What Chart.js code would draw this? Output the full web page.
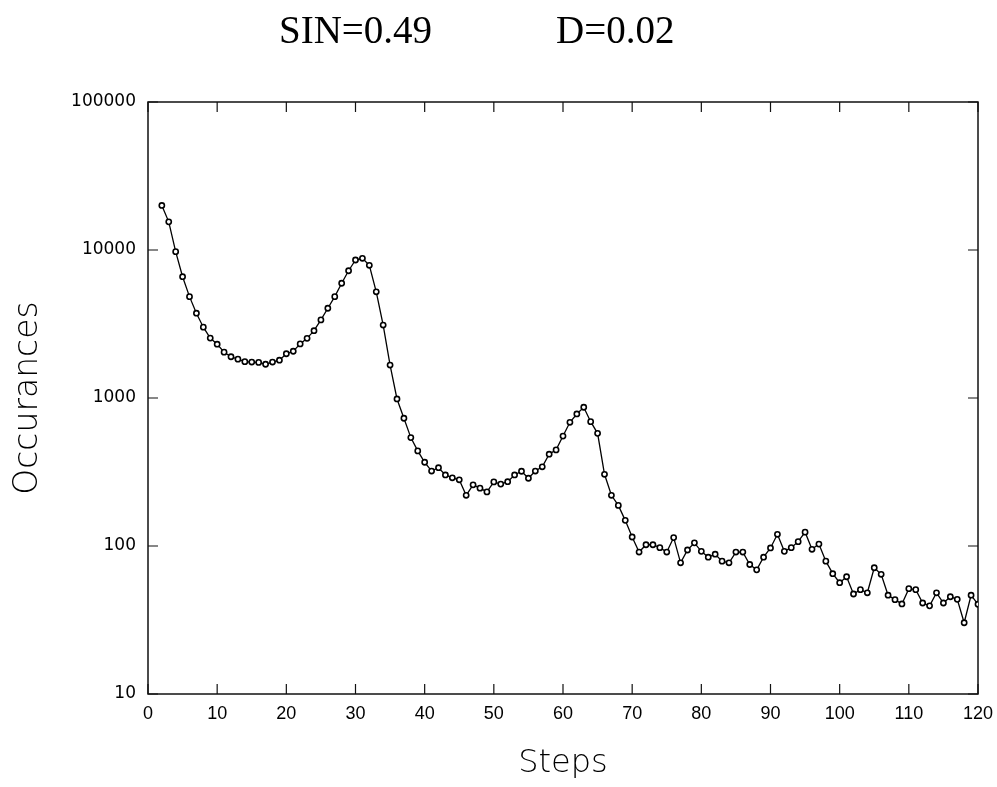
<!DOCTYPE html>
<html>
<head>
<meta charset="utf-8">
<script src="https://cdn.jsdelivr.net/npm/chart.js@4.4.1/dist/chart.umd.min.js"></script>
<style>
  html, body { margin: 0; padding: 0; background: #fff; }
  #wrap { width: 997px; height: 787px; }
</style>
</head>
<body>
<div id="wrap"><canvas id="occ" width="997" height="787"></canvas></div>
<script>
var steps = [2,3,4,5,6,7,8,9,10,11,12,13,14,15,16,17,18,19,20,
  21,22,23,24,25,26,27,28,29,30,31,32,33,34,35,36,37,38,39,40,
  41,42,43,44,45,46,47,48,49,50,51,52,53,54,55,56,57,58,59,60,
  61,62,63,64,65,66,67,68,69,70,71,72,73,74,75,76,77,78,79,80,
  81,82,83,84,85,86,87,88,89,90,91,92,93,94,95,96,97,98,99,100,
  101,102,103,104,105,106,107,108,109,110,111,112,113,114,115,116,117,118,119,120];

var occurances = [20000,15500,9750,6600,4840,3740,3010,2540,2310,
  2040,1900,1830,1760,1750,1740,1690,1750,1800,1990,
  2070,2320,2530,2850,3370,4040,4840,5960,7240,8560,
  8790,7880,5220,3110,1670,985,730,540,439,368,
  321,338,302,289,280,220,259,246,232,271,
  262,272,302,320,287,321,343,417,446,553,
  685,780,866,692,577,305,220,188,149,115,
  91,102,102,97.5,91,114,77,94,105,92,
  84,88,79,77,91,91,75,69,84,97,
  120,92,97.5,107,124,95,103,79,65,56.5,
  62,47.4,50.7,48.3,71.3,64.4,46.5,43.4,40.6,51.5,
  50.7,41.2,39.4,48.3,41.2,45.4,43.6,30.3,46.5,40.4];

var xTicks = [0,10,20,30,40,50,60,70,80,90,100,110,120];
var yTicks = [10,100,1000,10000,100000];

// box round the plot with short ticks pointing inward on all four sides
var frame = {
  id: 'frame',
  beforeDatasetsDraw: function(chart) {
    var ctx = chart.ctx, a = chart.chartArea;
    var x = chart.scales.x, y = chart.scales.y;
    ctx.save();
    ctx.strokeStyle = '#111';
    ctx.lineWidth = 1.5;
    ctx.strokeRect(a.left, a.top, a.right - a.left, a.bottom - a.top);
    ctx.lineWidth = 1.2;
    ctx.beginPath();
    xTicks.forEach(function(v) {
      var px = x.getPixelForValue(v);
      ctx.moveTo(px, a.bottom); ctx.lineTo(px, a.bottom - 10);
      ctx.moveTo(px, a.top); ctx.lineTo(px, a.top + 10);
    });
    yTicks.forEach(function(v) {
      var py = y.getPixelForValue(v);
      ctx.moveTo(a.left, py); ctx.lineTo(a.left + 10, py);
      ctx.moveTo(a.right, py); ctx.lineTo(a.right - 10, py);
    });
    ctx.stroke();
    ctx.restore();
  },
  afterDraw: function(chart) {
    var ctx = chart.ctx;
    ctx.save();
    ctx.fillStyle = '#000';
    ctx.font = '39px "Liberation Serif", serif';
    ctx.textBaseline = 'alphabetic';
    ctx.textAlign = 'left';
    ctx.fillText('SIN=0.49', 279, 43);
    ctx.fillText('D=0.02', 556, 43);
    ctx.restore();
  }
};

new Chart("occ", {
  type: "line",
  data: {
    datasets: [{
      data: steps.map(function(s, i) { return {x: s, y: occurances[i]}; }),
      borderColor: "#000",
      borderWidth: 1.3,
      pointRadius: 2.6,
      pointBorderWidth: 1.6,
      pointBackgroundColor: "#fff",
      pointBorderColor: "#000",
      fill: false,
      tension: 0
    }]
  },
  options: {
    responsive: false,
    animation: false,
    layout: { padding: { top: 102, right: 19, left: 0, bottom: 0 } },
    plugins: {
      legend: { display: false },
      tooltip: { enabled: false },
      title: { display: false }
    },
    scales: {
      x: {
        type: "linear",
        min: 0,
        max: 120,
        grid: { display: false, drawTicks: false },
        border: { display: false },
        afterFit: function(s) { s.height = 93; s.paddingLeft = 0; s.paddingRight = 0; },
        afterBuildTicks: function(s) { s.ticks = xTicks.map(function(v) { return {value: v}; }); },
        ticks: {
          padding: 9,
          color: "#000",
          maxRotation: 0,
          font: { family: "'Liberation Sans', Arial, sans-serif", size: 18 },
          callback: function(v) { return String(v); }
        },
        title: {
          display: true,
          text: "Steps",
          color: "#000",
          padding: { top: 0, bottom: 4 },
          font: { family: "'DejaVu Sans', sans-serif", size: 32, weight: 200 }
        }
      },
      y: {
        type: "logarithmic",
        min: 10,
        max: 100000,
        grid: { display: false, drawTicks: false },
        border: { display: false },
        afterFit: function(s) { s.width = 148; s.paddingTop = 0; s.paddingBottom = 0; },
        afterBuildTicks: function(s) { s.ticks = yTicks.map(function(v) { return {value: v}; }); },
        ticks: {
          padding: 12,
          color: "#000",
          font: { family: "'DejaVu Sans', sans-serif", size: 17 },
          callback: function(v) { return String(v); }
        },
        title: {
          display: true,
          text: "Occurances",
          color: "#000",
          padding: { top: 9, bottom: 0 },
          font: { family: "'DejaVu Sans', sans-serif", size: 33, weight: 200 }
        }
      }
    }
  },
  plugins: [frame]
});
</script>
</body>
</html>
